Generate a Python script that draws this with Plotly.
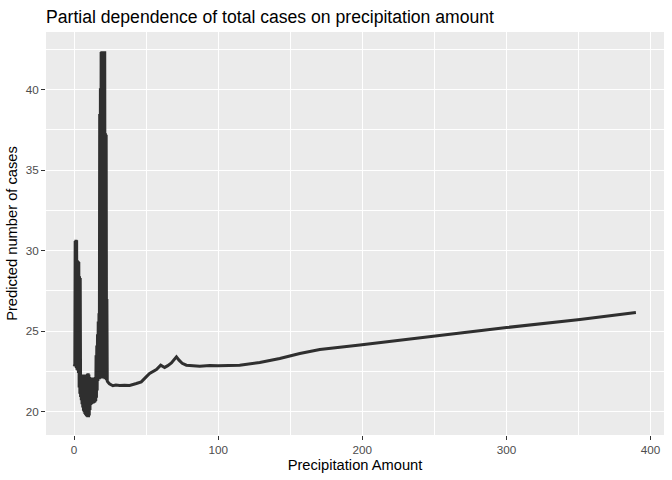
import plotly.graph_objects as go

# partial dependence curve (dense zig-zag part first, then the smooth tail)
dense_x = [0.00, 0.25, 0.50, 0.75, 1.00, 1.25, 1.50, 1.75, 2.00, 2.25,
           2.50, 2.75, 3.00, 3.25, 3.50, 3.75, 4.00, 4.25, 4.50, 4.75,
           5.00, 5.25, 5.50, 5.75, 6.00, 6.25, 6.50, 6.75, 7.00, 7.25,
           7.50, 7.75, 8.00, 8.25, 8.50, 8.75, 9.00, 9.25, 9.50, 9.75,
           10.00, 10.25, 10.50, 10.75, 11.00, 11.25, 11.50, 11.75, 12.00, 12.25,
           12.50, 12.75, 13.00, 13.25, 13.50, 13.75, 14.00, 14.25, 14.50, 14.75,
           15.00, 15.25, 15.50, 15.75, 16.00, 16.25, 16.50, 16.75, 17.00, 17.25,
           17.50, 17.75, 18.00, 18.25, 18.50, 18.75, 19.00, 19.25, 19.50, 19.75,
           20.00, 20.25, 20.50, 20.75, 21.00, 21.25, 21.50, 21.75, 22.00, 22.25,
           22.50, 22.75, 23.00, 23.25]
dense_y = [22.90, 22.85, 22.95, 30.60, 22.80, 30.68, 22.70, 30.65, 22.60, 29.40,
           22.55, 29.35, 22.40, 29.30, 21.50, 28.40, 21.10, 28.30, 20.90, 22.30,
           20.70, 22.30, 20.45, 22.28, 20.25, 22.30, 20.05, 22.25, 19.95, 22.30,
           19.85, 22.25, 19.78, 22.30, 19.72, 22.20, 19.68, 22.35, 19.65, 22.38,
           19.65, 22.30, 19.75, 22.15, 20.10, 22.10, 20.40, 22.10, 20.45, 22.10,
           20.48, 22.12, 20.50, 22.10, 20.52, 22.10, 20.55, 22.10, 20.58, 22.15,
           20.65, 23.50, 20.85, 24.10, 21.30, 24.80, 21.90, 25.60, 22.00, 26.10,
           22.00, 38.50, 22.05, 40.10, 22.10, 42.35, 22.10, 42.40, 22.05, 42.40,
           22.10, 42.38, 22.05, 42.40, 22.05, 42.40, 22.00, 37.30, 22.00, 37.20,
           21.95, 27.00, 21.90, 21.85]

smooth_x = [24.5, 26.9, 29.0, 31.6, 35.0, 38.5, 43.2, 46.6, 50.0, 52.4,
            57.1, 60.1, 62.8, 65.0, 67.5, 71.0, 72.8, 75.0, 77.9, 87.2,
            94.1, 99.9, 114.9, 128.8, 142.7, 156.6, 170.5, 184.4, 198.3, 250.6,
            300.1, 351.0, 389.8]
smooth_y = [21.72, 21.60, 21.64, 21.62, 21.63, 21.62, 21.74, 21.84, 22.15, 22.36,
            22.61, 22.88, 22.74, 22.85, 23.02, 23.40, 23.19, 23.00, 22.88, 22.82,
            22.86, 22.84, 22.88, 23.05, 23.30, 23.61, 23.86, 24.00, 24.14, 24.70,
            25.22, 25.72, 26.16]

precip = dense_x + smooth_x
predicted = dense_y + smooth_y

x_ticks = [0, 100, 200, 300, 400]
y_ticks = [20, 25, 30, 35, 40]

FONT = "Liberation Sans, Arial, sans-serif"

fig = go.Figure()
fig.add_trace(go.Scatter(
    x=precip, y=predicted,
    mode="lines",
    line=dict(color="#2f2f2f", width=3, simplify=False),
    showlegend=False,
    hoverinfo="skip",
))

axis_common = dict(
    showgrid=True, gridcolor="white", gridwidth=1.3,
    zeroline=False, showline=False, automargin=False,
    ticks="outside", ticklen=4, tickwidth=1.1, tickcolor="#333333",
    tickfont=dict(family=FONT, size=11.7, color="#4d4d4d"),
)

fig.update_layout(
    width=672, height=480,
    margin=dict(l=46, r=8, t=32, b=45),
    paper_bgcolor="white",
    plot_bgcolor="#ebebeb",
    font=dict(family=FONT, color="black"),
    title=dict(
        text="Partial dependence of total cases on precipitation amount",
        font=dict(family=FONT, size=17.6, color="black"),
        x=0, xref="paper", xanchor="left",
        y=1 - 17 / 480, yref="container", yanchor="middle",
    ),
    xaxis=dict(
        axis_common,
        range=[-19.5, 409.3],
        tickvals=x_ticks,
        minor=dict(showgrid=True, gridcolor="white", gridwidth=0.6, tickvals=[50, 150, 250, 350], ticks=""),
        title=dict(text="Precipitation Amount", font=dict(family=FONT, size=14.7, color="black"), standoff=4),
    ),
    yaxis=dict(
        axis_common,
        range=[18.54, 43.59],
        tickvals=y_ticks,
        minor=dict(showgrid=True, gridcolor="white", gridwidth=0.6, tickvals=[22.5, 27.5, 32.5, 37.5, 42.5], ticks=""),
        title=dict(text="Predicted number of cases", font=dict(family=FONT, size=14.7, color="black"), standoff=4),
    ),
)

# page body has a default 8px margin, drop it so the figure sits at the window corner
fig.write_html("out.html", config={"displayModeBar": False},
               post_script="document.body.style.margin = '0';")
